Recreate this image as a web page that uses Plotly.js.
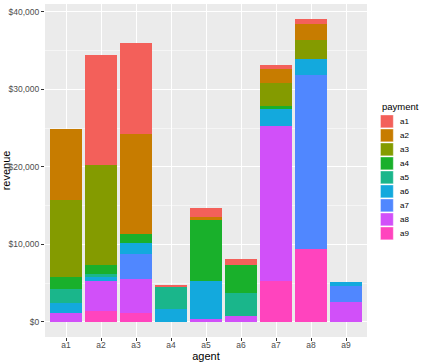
<!DOCTYPE html>
<html>
<head>
<meta charset="utf-8">
<script src="https://cdn.plot.ly/plotly-3.0.1.min.js"></script>
<style>
  html, body { margin: 0; padding: 0; background: #fff; }
  #chart { width: 423px; height: 363px; }
</style>
</head>
<body>
<div id="chart"></div>
<script>
// revenue per agent, stacked by payment type
const agents = ['a1', 'a2', 'a3', 'a4', 'a5', 'a6', 'a7', 'a8', 'a9'];
const payments = ['a1', 'a2', 'a3', 'a4', 'a5', 'a6', 'a7', 'a8', 'a9'];

const pay_a1 = [0, 14270, 11690, 260, 1160, 740, 550, 610, 0];
const pay_a2 = [9190, 0, 12980, 0, 390, 0, 1840, 2020, 0];
const pay_a3 = [9920, 12890, 0, 0, 0, 0, 2930, 2490, 100];
const pay_a4 = [1550, 1070, 1070, 0, 7770, 3650, 430, 0, 0];
const pay_a5 = [1840, 480, 0, 2800, 0, 2920, 0, 0, 0];
const pay_a6 = [1340, 520, 1510, 1710, 4990, 0, 2110, 2060, 420];
const pay_a7 = [0, 0, 3170, 0, 0, 0, 0, 22460, 2100];
const pay_a8 = [1100, 3770, 4380, 0, 340, 810, 20010, 0, 2580];
const pay_a9 = [0, 1460, 1160, 0, 0, 0, 5320, 9410, 0];

const values = [pay_a1, pay_a2, pay_a3, pay_a4, pay_a5, pay_a6, pay_a7, pay_a8, pay_a9];
const colors = ['#F3605A', '#C77C00', '#849B00', '#19B02B', '#1AB68B', '#13A9DD', '#5087FF', '#D150F9', '#FF44BE'];

// ggplot stacks the first level on top, so add traces bottom-up (a9 first)
const traces = payments.map((p, i) => ({
  x: agents, y: values[i], name: p,
  type: 'bar', width: 0.9,
  marker: { color: colors[i] },
  hovertemplate: p + ': $%{y:,}<extra></extra>',
  showlegend: false,
})).reverse();

const totals = agents.map((_, j) => values.reduce((s, v) => s + v[j], 0));
const ymax = Math.max(...totals);
const pad = ymax * 0.05;

const FONT = 'Liberation Sans, Arial, sans-serif';
const tickFont = { family: FONT, size: 8.5, color: '#4D4D4D' };
const titleFont = { family: FONT, size: 11, color: '#000' };

// ggplot-style legend (square keys, tight spacing) built in paper coords
const W = 423, H = 363, M = { l: 45, r: 56, t: 4, b: 26 };
const pw = W - M.l - M.r, ph = H - M.t - M.b;
const px = v => (v - M.l) / pw;
const py = v => (H - M.b - v) / ph;
const keyX = 380.5, keyW = 12.8, keyTop = 115, keyStep = 14;

const shapes = payments.map((p, i) => ({
  type: 'rect', xref: 'paper', yref: 'paper',
  x0: px(keyX), x1: px(keyX + keyW),
  y0: py(keyTop + i * keyStep + keyW), y1: py(keyTop + i * keyStep),
  fillcolor: colors[i], line: { color: 'rgba(255,255,255,0.6)', width: 0.6 },
}));
const annotations = payments.map((p, i) => ({
  xref: 'paper', yref: 'paper', x: px(398), y: py(keyTop + i * keyStep + keyW / 2),
  xanchor: 'left', yanchor: 'middle', showarrow: false,
  text: p, font: { family: FONT, size: 8, color: '#000' },
}));
annotations.push({
  xref: 'paper', yref: 'paper', x: px(379.5), y: py(106),
  xanchor: 'left', yanchor: 'middle', showarrow: false,
  text: 'payment', font: { family: FONT, size: 9.5, color: '#000' },
});

Plotly.newPlot('chart', traces, {
  width: W, height: H,
  barmode: 'stack', bargap: 0,
  paper_bgcolor: '#fff', plot_bgcolor: '#EBEBEB',
  margin: M,
  font: { family: FONT },
  xaxis: {
    type: 'category', range: [-0.6, 8.6],
    showgrid: true, gridcolor: '#fff', gridwidth: 1,
    ticks: 'outside', ticklen: 3, tickcolor: '#333', tickwidth: 1,
    ticklabelstandoff: -3,
    tickfont: tickFont, zeroline: false, showline: false,
    title: { text: 'agent', font: titleFont, standoff: 0 },
  },
  yaxis: {
    range: [-pad, ymax + pad],
    dtick: 10000, tick0: 0, tickprefix: '$', tickformat: ',d',
    showgrid: true, gridcolor: '#fff', gridwidth: 1,
    minor: { dtick: 5000, tick0: 0, showgrid: true, gridcolor: '#fff', gridwidth: 0.5 },
    ticks: 'outside', ticklen: 3, tickcolor: '#333', tickwidth: 1,
    tickfont: tickFont, zeroline: false, showline: false,
    title: { text: 'revenue', font: titleFont, standoff: 4 },
  },
  shapes: shapes,
  annotations: annotations,
  showlegend: false,
}, { displayModeBar: false, staticPlot: true });
</script>
</body>
</html>
